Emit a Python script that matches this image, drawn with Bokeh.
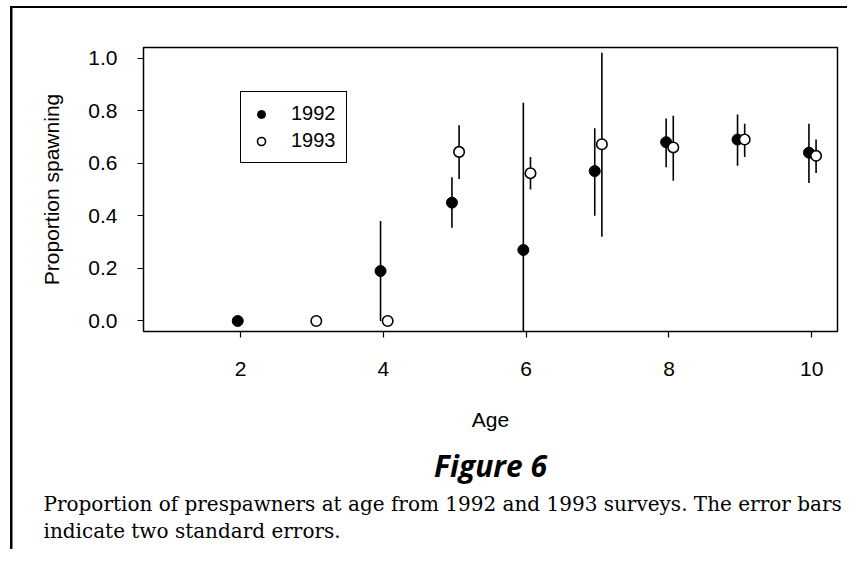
from bokeh.plotting import figure
from bokeh.models import (ColumnDataSource, FixedTicker, NumeralTickFormatter,
                          Legend, LegendItem, Range1d, Title)
from bokeh.embed import file_html
from bokeh.resources import INLINE

# ---------------- data ----------------
ages_1992 = [2, 4, 5, 6, 7, 8, 9, 10]
prop_1992 = [0.00, 0.19, 0.45, 0.27, 0.57, 0.68, 0.69, 0.64]
low_1992 = [0.00, 0.00, 0.355, -0.30, 0.40, 0.585, 0.59, 0.525]
high_1992 = [0.00, 0.38, 0.547, 0.83, 0.733, 0.77, 0.785, 0.75]

ages_1993 = [3, 4, 5, 6, 7, 8, 9, 10]
prop_1993 = [0.00, 0.00, 0.643, 0.562, 0.672, 0.66, 0.69, 0.628]
low_1993 = [0.00, 0.00, 0.54, 0.50, 0.32, 0.533, 0.624, 0.563]
high_1993 = [0.00, 0.00, 0.744, 0.624, 1.02, 0.78, 0.75, 0.69]

x_ticks = [2, 4, 6, 8, 10]
y_ticks = [0.0, 0.2, 0.4, 0.6, 0.8, 1.0]
dodge_1992 = -0.04
dodge_1993 = 0.06

title_text = "Figure 6"
caption_lines = [
    "Proportion of prespawners at age from 1992 and 1993 surveys. The error bars",
    "indicate two standard errors.",
]

# ---------------- sources ----------------
src92 = ColumnDataSource(dict(x=[a + dodge_1992 for a in ages_1992], y=prop_1992,
                              lo=low_1992, hi=high_1992))
src93 = ColumnDataSource(dict(x=[a + dodge_1993 for a in ages_1993], y=prop_1993,
                              lo=low_1993, hi=high_1993))

W, H = 847, 549
p = figure(width=W, height=H, output_backend="svg", toolbar_location=None,
           x_range=Range1d(0.64, 10.36), y_range=Range1d(-0.04, 1.04),
           min_border_left=143, min_border_right=10, min_border_top=47,
           min_border_bottom=218)
p.grid.visible = False
p.outline_line_color = "black"
p.outline_line_width = 1.5
p.background_fill_color = "white"
p.border_fill_color = None
# outer page frame: left and top edges
p.styles = {
    "background-color": "white",
    "background-image": "linear-gradient(#000, #000), linear-gradient(#000, #000)",
    "background-repeat": "no-repeat",
    "background-size": "2.5px 100%, 100% 2px",
    "background-position": "9.5px 6px, 9.5px 6px",
}

FONT = "Liberation Sans"
for ax in (p.xaxis[0], p.yaxis[0]):
    ax.axis_line_color = None
    ax.major_tick_line_color = "black"
    ax.major_tick_line_width = 1.2
    ax.major_tick_out = 6
    ax.major_tick_in = 0
    ax.minor_tick_line_color = None
    ax.major_label_text_font = FONT
    ax.major_label_text_font_size = "21px"
    ax.major_label_text_color = "black"
    ax.axis_label_text_font = FONT
    ax.axis_label_text_font_size = "21px"
    ax.axis_label_text_font_style = "normal"
    ax.axis_label_text_color = "black"

p.xaxis.ticker = FixedTicker(ticks=x_ticks)
p.yaxis.ticker = FixedTicker(ticks=y_ticks)
p.yaxis.formatter = NumeralTickFormatter(format="0.0")
p.xaxis.major_label_standoff = 24
p.yaxis.major_label_standoff = 20
p.xaxis.axis_label = "Age"
p.xaxis.axis_label_standoff = 29
p.yaxis.axis_label = "Proportion spawning"
p.yaxis.axis_label_standoff = 22

# error bars
p.segment(x0="x", y0="lo", x1="x", y1="hi", source=src92, line_color="black", line_width=1.6)
p.segment(x0="x", y0="lo", x1="x", y1="hi", source=src93, line_color="black", line_width=1.6)

r92 = p.scatter("x", "y", source=src92, size=11, marker="circle",
                fill_color="black", line_color="black", line_width=1)
r93 = p.scatter("x", "y", source=src93, size=10.5, marker="circle",
                fill_color="white", line_color="black", line_width=1.6)

legend = Legend(items=[LegendItem(label="1992", renderers=[r92]),
                       LegendItem(label="1993", renderers=[r93])],
                location=(97, 168), orientation="vertical",
                border_line_color="black", border_line_width=1.5, border_line_alpha=1.0,
                background_fill_color="white", background_fill_alpha=1.0,
                padding=10, spacing=4, glyph_height=20, glyph_width=20,
                label_height=20, label_standoff=20,
                label_text_font=FONT, label_text_font_size="20px",
                label_text_color="black", margin=0)
p.add_layout(legend, "center")

# figure title and caption below the plot
p.add_layout(Title(text=title_text, align="center", standoff=19, text_font="Open Sans",
                   text_font_style="bold italic", text_font_size="30px",
                   text_color="black"), "below")
p.add_layout(Title(text="\n".join(caption_lines), align="left", offset=-100, standoff=-12,
                   text_font="DejaVu Serif", text_font_style="normal",
                   text_font_size="20px", text_line_height=1.15, text_color="black"),
             "below")

open("out.html", "w").write(file_html(p, INLINE))
